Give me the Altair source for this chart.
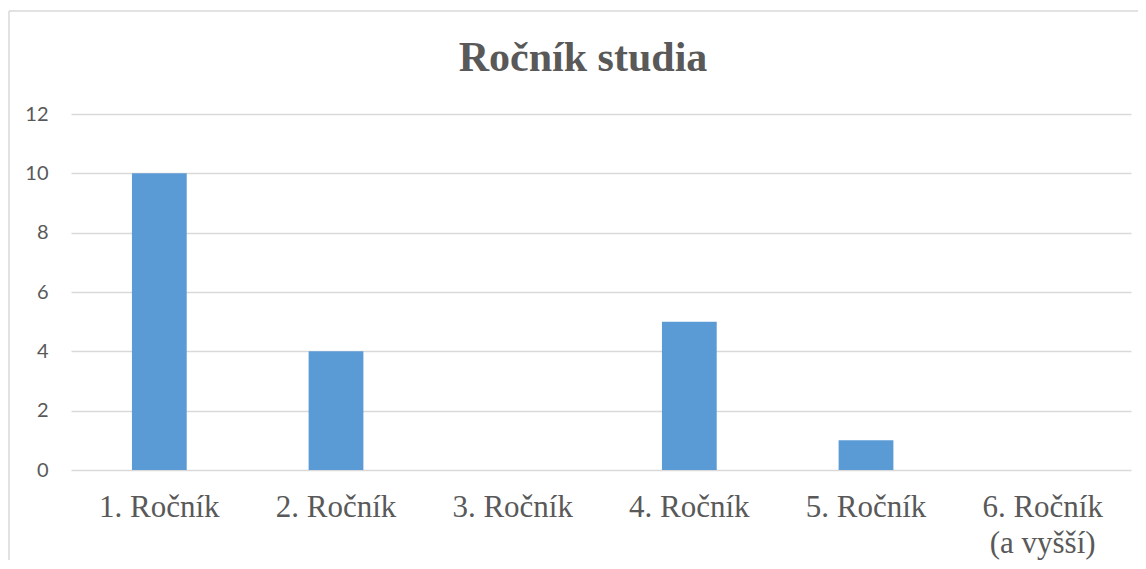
import altair as alt
import pandas as pd

categories = ["1. Ročník", "2. Ročník", "3. Ročník", "4. Ročník", "5. Ročník", "6. Ročník\n(a vyšší)"]
values = [10, 4, 0, 5, 1, 0]
y_ticks = [0, 2, 4, 6, 8, 10, 12]

df = pd.DataFrame({"cat": categories, "val": values})

bars = alt.Chart(df).mark_bar(color="#5B9BD5").encode(
    x=alt.X("cat:N", sort=categories, title=None,
            scale=alt.Scale(paddingInner=0.69, paddingOuter=0.345),
            axis=alt.Axis(labelAngle=0, labelFont="Liberation Serif", labelFontSize=31,
                          labelColor="#595959", labelPadding=22, labelLineHeight=36,
                          labelExpr="split(datum.label, '\\n')",
                          domain=False, ticks=False, grid=False, labelLimit=300)),
    y=alt.Y("val:Q", title=None,
            scale=alt.Scale(domain=[0, 12]),
            axis=alt.Axis(values=y_ticks, labelFont="Lato", labelFontSize=20,
                          labelColor="#595959", labelPadding=23,
                          domain=False, ticks=False, gridColor="#D9D9D9", gridWidth=1.5)),
)

one = pd.DataFrame({"a": [0]})
left_edge = alt.Chart(one).mark_rule(color="#D9D9D9", strokeWidth=1.5, clip=False).encode(
    x=alt.value(-62), y=alt.value(-103), y2=alt.value(600))
top_edge = alt.Chart(one).mark_rule(color="#D9D9D9", strokeWidth=1.5, clip=False).encode(
    x=alt.value(-62), x2=alt.value(1200), y=alt.value(-103))

chart = alt.layer(left_edge, top_edge, bars).properties(
    width=1060, height=356,
    background="white",
    title=alt.TitleParams("Ročník studia", font="Liberation Serif", fontSize=42,
                          fontWeight="bold", color="#595959", anchor="middle",
                          dx=-18, offset=0, dy=103, baseline="alphabetic"),
    autosize="none",
    padding={"left": 63, "top": 106, "right": 7, "bottom": 90},
).configure_view(stroke=None, strokeWidth=0)

chart.save("out.html", embed_options={"renderer": "svg", "actions": False})
